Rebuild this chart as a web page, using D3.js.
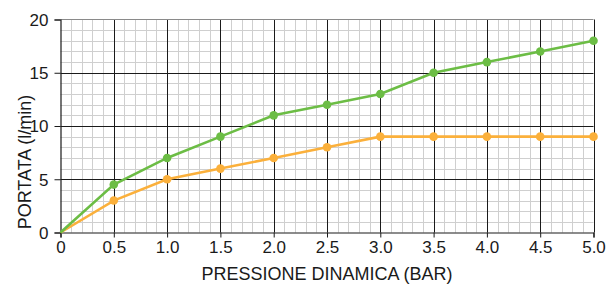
<!DOCTYPE html>
<html><head><meta charset="utf-8">
<script src="https://cdn.jsdelivr.net/npm/d3@7"></script>
<style>body{margin:0;background:#fff}svg{display:block}</style>
</head><body>
<svg id="c" width="609" height="284"></svg>
<script>
const pressure = [0, 0.5, 1.0, 1.5, 2.0, 2.5, 3.0, 3.5, 4.0, 4.5, 5.0];
const greenFlow = [0, 4.5, 7, 9, 11, 12, 13, 15, 16, 17, 18];
const orangeFlow = [0, 3, 5, 6, 7, 8, 9, 9, 9, 9, 9];
const xTicks = [0, 0.5, 1.0, 1.5, 2.0, 2.5, 3.0, 3.5, 4.0, 4.5, 5.0];
const yTicks = [0, 5, 10, 15, 20];
const xTitle = "PRESSIONE DINAMICA (BAR)";
const yTitle = "PORTATA (l/min)";

const svg = d3.select("#c");
const L = 60.5, R = 593.5, T = 19.5, B = 232.5;
const x = d3.scaleLinear().domain([0, 5]).range([L, R]);
const y = d3.scaleLinear().domain([0, 20]).range([B, T]);
const font = "Liberation Sans, Arial, sans-serif";

// minor grid
const minorX = d3.range(0, 51).map(i => i / 10).filter(v => Math.round(v * 10) % 5 !== 0);
const minorY = d3.range(0, 21).filter(v => v % 5 !== 0);
const g = svg.append("g");
g.selectAll(".mx").data(minorX).join("line")
  .attr("x1", d => Math.round(x(d)) + 0.5).attr("x2", d => Math.round(x(d)) + 0.5)
  .attr("y1", T).attr("y2", B).attr("stroke", "#cfcfcf").attr("stroke-width", 1);
g.selectAll(".my").data(minorY).join("line")
  .attr("y1", d => Math.round(y(d)) + 0.5).attr("y2", d => Math.round(y(d)) + 0.5)
  .attr("x1", L).attr("x2", R).attr("stroke", "#cfcfcf").attr("stroke-width", 1);
// major grid
g.selectAll(".Mx").data(xTicks.slice(1)).join("line")
  .attr("x1", d => Math.round(x(d)) + 0.5).attr("x2", d => Math.round(x(d)) + 0.5)
  .attr("y1", T).attr("y2", B).attr("stroke", "#1a1a1a").attr("stroke-width", 1);
g.selectAll(".My").data(yTicks.slice(1, 4)).join("line")
  .attr("y1", d => Math.round(y(d)) + 0.5).attr("y2", d => Math.round(y(d)) + 0.5)
  .attr("x1", L).attr("x2", R).attr("stroke", "#1a1a1a").attr("stroke-width", 1);
// top border
svg.append("line").attr("x1", L).attr("x2", R).attr("y1", T).attr("y2", T).attr("stroke", "#8a8a8a");

// axes
const xAxis = svg.append("g").attr("transform", `translate(0,${B})`)
  .call(d3.axisBottom(x).tickValues(xTicks).tickSize(5).tickPadding(3)
    .tickFormat(d => d === 0 ? "0" : d3.format(".1f")(d)));
const yAxis = svg.append("g").attr("transform", `translate(${L},0)`)
  .call(d3.axisLeft(y).tickValues(yTicks).tickSize(6).tickPadding(6).tickFormat(d3.format("d")));
[xAxis, yAxis].forEach(a => {
  a.select(".domain").attr("stroke", "#1a1a1a").attr("stroke-width", 1.2);
  a.selectAll(".tick line").attr("stroke", "#1a1a1a");
  a.selectAll("text").attr("font-family", font).attr("font-size", 17).attr("fill", "#1a1a1a");
});
yAxis.selectAll("text").attr("dy", "0.35em");

// lines
function series(vals, color) {
  const data = pressure.map((p, i) => [p, vals[i]]);
  svg.append("path").datum(data)
    .attr("d", d3.line().x(d => x(d[0])).y(d => y(d[1])))
    .attr("fill", "none").attr("stroke", color).attr("stroke-width", 2.6);
  svg.append("g").selectAll("circle").data(data.slice(1)).join("circle")
    .attr("cx", d => x(d[0])).attr("cy", d => y(d[1])).attr("r", 4.3).attr("fill", color);
}
series(orangeFlow, "#fbb03b");
series(greenFlow, "#6cbd45");

// titles
svg.append("text").attr("x", (L + R) / 2).attr("y", 280).attr("text-anchor", "middle")
  .attr("font-family", font).attr("font-size", 18).attr("fill", "#1a1a1a").text(xTitle);
svg.append("text").attr("transform", "translate(31,162) rotate(-90)").attr("text-anchor", "middle")
  .attr("font-family", font).attr("font-size", 18).attr("fill", "#1a1a1a").text(yTitle);
</script>
</body></html>
